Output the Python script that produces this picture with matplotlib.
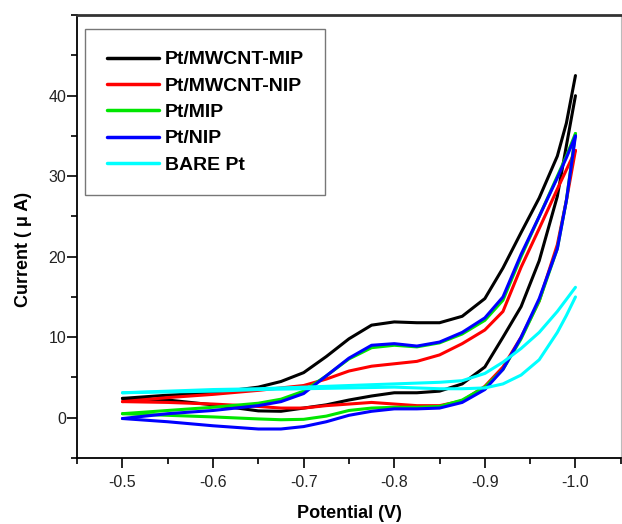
import matplotlib
matplotlib.use('Agg')
import matplotlib.pyplot as plt
from matplotlib.ticker import MultipleLocator, FixedLocator, FormatStrFormatter

plt.rcParams['font.family'] = ['Liberation Sans', 'DejaVu Sans']

# Potential grid (V), shared by every branch
E = [-0.5, -0.55, -0.6, -0.65, -0.675, -0.7, -0.725, -0.75, -0.775, -0.8,
     -0.825, -0.85, -0.875, -0.9, -0.92, -0.94, -0.96, -0.98, -0.99, -1.0]

# Current (uA): upper branch (with the peak) and lower branch of each CV
mwcnt_mip_up = [2.4, 2.8, 3.1, 3.8, 4.5, 5.6, 7.6, 9.8, 11.5, 11.9,
                11.8, 11.8, 12.6, 14.8, 18.6, 23.0, 27.3, 32.5, 36.6, 42.5]
mwcnt_mip_dn = [2.4, 2.2, 1.6, 0.85, 0.8, 1.2, 1.6, 2.2, 2.7, 3.1,
                3.1, 3.3, 4.2, 6.3, 10.0, 13.8, 19.5, 27.5, 33.8, 40.0]

mwcnt_nip_up = [2.0, 2.5, 2.9, 3.4, 3.7, 4.0, 4.8, 5.8, 6.4, 6.7,
                7.0, 7.8, 9.2, 10.9, 13.2, 18.7, 23.5, 28.4, 30.8, 33.2]
mwcnt_nip_dn = [2.0, 1.9, 1.7, 1.4, 1.2, 1.2, 1.5, 1.7, 1.9, 1.7,
                1.5, 1.5, 2.1, 3.9, 6.3, 10.0, 14.5, 21.5, 27.0, 33.2]

mip_up = [0.5, 0.9, 1.3, 1.8, 2.3, 3.3, 5.2, 7.3, 8.7, 9.0,
          8.8, 9.3, 10.4, 12.1, 14.6, 20.0, 25.0, 30.0, 32.5, 35.3]
mip_dn = [0.5, 0.3, 0.1, -0.15, -0.25, -0.2, 0.2, 0.9, 1.2, 1.3,
          1.3, 1.4, 2.2, 3.8, 6.0, 9.8, 14.5, 21.0, 27.0, 35.3]

nip_up = [-0.1, 0.5, 0.9, 1.5, 2.0, 3.0, 5.2, 7.4, 9.0, 9.2,
          8.9, 9.4, 10.6, 12.4, 15.0, 20.3, 25.0, 29.8, 32.3, 35.0]
nip_dn = [-0.1, -0.5, -1.0, -1.4, -1.4, -1.1, -0.5, 0.3, 0.8, 1.1,
          1.1, 1.2, 1.9, 3.5, 6.0, 10.0, 14.8, 21.0, 27.0, 35.0]

bare_up = [3.1, 3.3, 3.5, 3.6, 3.7, 3.8, 3.9, 4.0, 4.1, 4.2,
           4.3, 4.4, 4.6, 5.5, 6.9, 8.6, 10.6, 13.2, 14.7, 16.2]
bare_dn = [3.1, 3.2, 3.3, 3.5, 3.55, 3.6, 3.65, 3.7, 3.75, 3.8,
           3.7, 3.6, 3.6, 3.7, 4.2, 5.3, 7.2, 10.6, 12.7, 15.0]

labels = ['Pt/MWCNT-MIP', 'Pt/MWCNT-NIP', 'Pt/MIP', 'Pt/NIP', 'BARE Pt']
colors = ['#000000', '#ff0000', '#00e600', '#0000ff', '#00ffff']
branches = [(mwcnt_mip_up, mwcnt_mip_dn), (mwcnt_nip_up, mwcnt_nip_dn),
            (mip_up, mip_dn), (nip_up, nip_dn), (bare_up, bare_dn)]

y_ticks = [0, 10, 20, 30, 40]

fig = plt.figure(figsize=(6.22, 5.24), dpi=100)
ax = fig.add_axes([0.124, 0.126, 0.874, 0.845])

for lab, col, (up, dn) in zip(labels, colors, branches):
    ax.plot(E, up, color=col, lw=2.2, label=lab, solid_capstyle='round')
    ax.plot(E, dn, color=col, lw=2.2, solid_capstyle='round')

ax.set_xlim(-0.45, -1.05)
ax.set_ylim(-5, 50)
ax.xaxis.set_major_locator(MultipleLocator(0.1))
ax.xaxis.set_minor_locator(MultipleLocator(0.05))
ax.yaxis.set_major_locator(FixedLocator(y_ticks))
ax.yaxis.set_minor_locator(MultipleLocator(5))
ax.xaxis.set_major_formatter(FormatStrFormatter('%.1f'))

ax.tick_params(which='major', length=7, width=1.2, labelsize=11.5,
               labelcolor='#222222', direction='out')
ax.tick_params(which='minor', length=4.5, width=1.2, direction='out')
ax.tick_params(axis='y', pad=1)
ax.tick_params(axis='x', pad=5)

ax.spines['left'].set_linewidth(1.3)
ax.spines['bottom'].set_linewidth(1.3)
ax.spines['top'].set_linewidth(2)
ax.spines['top'].set_color('#333333')
ax.spines['right'].set_linewidth(0.8)
ax.spines['right'].set_color('#bbbbbb')

ax.set_xlabel('Potential (V)', fontsize=13, fontweight='bold', labelpad=11)
ax.set_ylabel('Current ( \u03bc A)', fontsize=13, fontweight='bold')
ax.yaxis.set_label_coords(-0.083, 0.47)

leg = ax.legend(loc='upper left', bbox_to_anchor=(0.0147, 0.968),
                borderaxespad=0, prop={'weight': 'bold', 'size': 14},
                handlelength=2.7, handletextpad=0.3, labelspacing=0.45,
                borderpad=1.1, fancybox=False, frameon=True)
leg.get_frame().set_edgecolor('#555555')
leg.get_frame().set_linewidth(1.0)
for line in leg.get_lines():
    line.set_linewidth(2.5)

fig.savefig('out.png', dpi=100)
